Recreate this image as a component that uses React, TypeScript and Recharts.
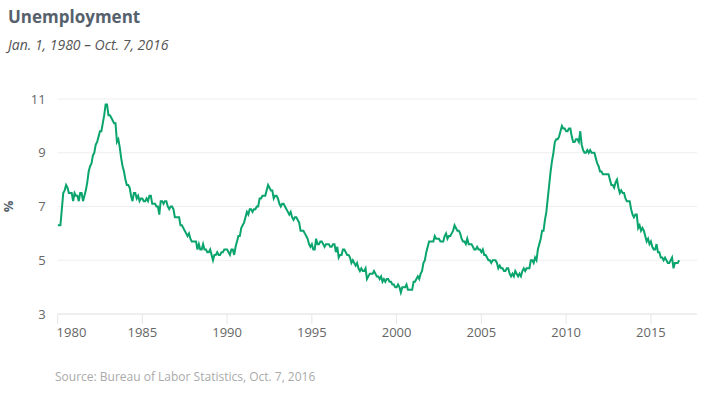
import React from "react";
import { CartesianGrid, Line, LineChart, XAxis, YAxis } from "recharts";

// Monthly unemployment rate (%), seasonally adjusted, Jan 1980 onward
const rates1980s = [
  6.3, 6.3, 6.3, 6.9, 7.5, 7.6, 7.8, 7.7, 7.5, 7.5, 7.5, 7.2,
  7.5, 7.4, 7.4, 7.2, 7.5, 7.5, 7.2, 7.4, 7.6, 7.9, 8.3, 8.5,
  8.6, 8.9, 9.0, 9.3, 9.4, 9.6, 9.8, 9.8, 10.1, 10.4, 10.8, 10.8,
  10.4, 10.4, 10.3, 10.2, 10.1, 10.1, 9.4, 9.5, 9.2, 8.8, 8.5, 8.3,
  8.0, 7.8, 7.8, 7.7, 7.4, 7.2, 7.5, 7.5, 7.3, 7.4, 7.2, 7.3,
  7.3, 7.2, 7.2, 7.3, 7.2, 7.4, 7.4, 7.1, 7.1, 7.1, 7.0, 7.0,
  6.7, 7.2, 7.2, 7.1, 7.2, 7.2, 7.0, 6.9, 7.0, 7.0, 6.9, 6.6,
  6.6, 6.6, 6.6, 6.3, 6.3, 6.2, 6.1, 6.0, 5.9, 6.0, 5.8, 5.7,
  5.7, 5.7, 5.7, 5.4, 5.6, 5.4, 5.4, 5.6, 5.4, 5.4, 5.3, 5.3,
  5.4, 5.2, 5.0, 5.2, 5.2, 5.3, 5.2, 5.2, 5.3, 5.3, 5.4, 5.4,
];
const rates1990s = [
  5.4, 5.3, 5.2, 5.4, 5.4, 5.2, 5.5, 5.7, 5.9, 5.9, 6.2, 6.3,
  6.4, 6.6, 6.8, 6.7, 6.9, 6.9, 6.8, 6.9, 6.9, 7.0, 7.0, 7.3,
  7.3, 7.4, 7.4, 7.4, 7.6, 7.8, 7.7, 7.6, 7.6, 7.3, 7.4, 7.4,
  7.3, 7.1, 7.0, 7.1, 7.1, 7.0, 6.9, 6.8, 6.7, 6.8, 6.6, 6.5,
  6.6, 6.6, 6.5, 6.4, 6.1, 6.1, 6.1, 6.0, 5.9, 5.8, 5.6, 5.5,
  5.6, 5.4, 5.4, 5.8, 5.6, 5.6, 5.7, 5.7, 5.6, 5.5, 5.6, 5.6,
  5.6, 5.5, 5.5, 5.6, 5.6, 5.3, 5.5, 5.1, 5.2, 5.2, 5.4, 5.4,
  5.3, 5.2, 5.2, 5.1, 4.9, 5.0, 4.9, 4.8, 4.9, 4.7, 4.6, 4.7,
  4.6, 4.6, 4.7, 4.3, 4.4, 4.5, 4.5, 4.5, 4.6, 4.5, 4.4, 4.4,
  4.3, 4.4, 4.2, 4.3, 4.2, 4.3, 4.3, 4.2, 4.2, 4.1, 4.1, 4.0,
];
const rates2000s = [
  4.0, 4.1, 4.0, 3.8, 4.0, 4.0, 4.0, 4.1, 3.9, 3.9, 3.9, 3.9,
  4.2, 4.2, 4.3, 4.4, 4.3, 4.5, 4.6, 4.9, 5.0, 5.3, 5.5, 5.7,
  5.7, 5.7, 5.7, 5.9, 5.8, 5.8, 5.8, 5.7, 5.7, 5.7, 5.9, 6.0,
  5.8, 5.9, 5.9, 6.0, 6.1, 6.3, 6.2, 6.1, 6.1, 6.0, 5.8, 5.7,
  5.7, 5.6, 5.8, 5.6, 5.6, 5.6, 5.5, 5.4, 5.4, 5.5, 5.4, 5.4,
  5.3, 5.4, 5.2, 5.2, 5.1, 5.0, 5.0, 4.9, 5.0, 5.0, 5.0, 4.9,
  4.7, 4.8, 4.7, 4.7, 4.6, 4.6, 4.7, 4.7, 4.5, 4.4, 4.5, 4.4,
  4.6, 4.5, 4.4, 4.5, 4.4, 4.6, 4.7, 4.6, 4.7, 4.7, 4.7, 5.0,
  5.0, 4.9, 5.1, 5.0, 5.4, 5.6, 5.8, 6.1, 6.1, 6.5, 6.8, 7.3,
  7.8, 8.3, 8.7, 9.0, 9.4, 9.5, 9.5, 9.6, 9.8, 10.0, 9.9, 9.9,
];
const rates2010s = [
  9.8, 9.8, 9.9, 9.9, 9.6, 9.4, 9.4, 9.5, 9.5, 9.4, 9.8, 9.3,
  9.1, 9.0, 9.0, 9.1, 9.0, 9.1, 9.0, 9.0, 9.0, 8.8, 8.6, 8.5,
  8.3, 8.3, 8.2, 8.2, 8.2, 8.2, 8.2, 8.0, 7.8, 7.8, 7.7, 7.9,
  8.0, 7.7, 7.5, 7.6, 7.5, 7.5, 7.3, 7.2, 7.2, 7.2, 6.9, 6.7,
  6.6, 6.7, 6.7, 6.2, 6.3, 6.1, 6.2, 6.1, 5.9, 5.7, 5.8, 5.6,
  5.7, 5.5, 5.4, 5.4, 5.6, 5.3, 5.3, 5.1, 5.1, 5.0, 5.1, 5.0,
  4.9, 4.9, 5.0, 5.1, 4.7, 4.9, 4.9, 4.9, 5.0,
];

const startYear = 1980;
const yearTicks = [1980, 1985, 1990, 1995, 2000, 2005, 2010, 2015];
const rateTicks = [3, 5, 7, 9, 11];

const data = [...rates1980s, ...rates1990s, ...rates2000s, ...rates2010s].map((rate, i) => ({
  t: startYear + i / 12,
  rate,
}));

const FONT = "'Open Sans', sans-serif";

function YearTick({ x, y, payload, index }: any) {
  const first = index === 0;
  return (
    <text
      x={first ? x - 1 : x}
      y={y + 11}
      textAnchor={first ? "start" : "middle"}
      fontSize={13}
      fill="#666"
      fontFamily={FONT}
    >
      {payload.value}
    </text>
  );
}

function PercentLabel({ viewBox }: any) {
  const cy = viewBox.y + viewBox.height / 2;
  return (
    <text
      x={8}
      y={cy}
      transform={`rotate(-90, 8, ${cy})`}
      textAnchor="middle"
      dominantBaseline="central"
      fontSize={13}
      fontWeight={700}
      fill="#56616c"
      fontFamily={FONT}
    >
      %
    </text>
  );
}

export default function App() {
  return (
    <div style={{ position: "fixed", left: 0, top: 0, width: 708, height: 394, background: "#fff", fontFamily: FONT }}>
      <div style={{ position: "absolute", left: 8, top: 6, fontSize: 17, fontWeight: 700, color: "#56616c", lineHeight: "22px" }}>
        Unemployment
      </div>
      <div style={{ position: "absolute", left: 8, top: 35, fontSize: 14, fontStyle: "italic", color: "#555", lineHeight: "20px" }}>
        Jan. 1, 1980 – Oct. 7, 2016
      </div>
      <LineChart width={708} height={394} data={data} margin={{ top: 99, right: 11, bottom: 50, left: 0 }}>
        <CartesianGrid vertical={false} stroke="#eeeeee" />
        <XAxis
          dataKey="t"
          type="number"
          domain={[1980, 2017.72]}
          ticks={yearTicks}
          tick={<YearTick />}
          tickSize={10}
          axisLine={{ stroke: "#e6e6e6" }}
          tickLine={{ stroke: "#e6e6e6" }}
          interval={0}
          allowDataOverflow
        />
        <YAxis
          width={57.6}
          domain={[3, 11]}
          ticks={rateTicks}
          axisLine={false}
          tickLine={false}
          tickSize={0}
          tickMargin={12}
          tick={{ fontSize: 13, fill: "#666", fontFamily: FONT }}
          label={<PercentLabel />}
        />
        <Line
          type="linear"
          dataKey="rate"
          stroke="#0aa46d"
          strokeWidth={2}
          dot={false}
          isAnimationActive={false}
        />
      </LineChart>
      <div style={{ position: "absolute", left: 55, top: 369, fontSize: 12, color: "#aaa", lineHeight: "16px" }}>
        Source: Bureau of Labor Statistics, Oct. 7, 2016
      </div>
    </div>
  );
}
